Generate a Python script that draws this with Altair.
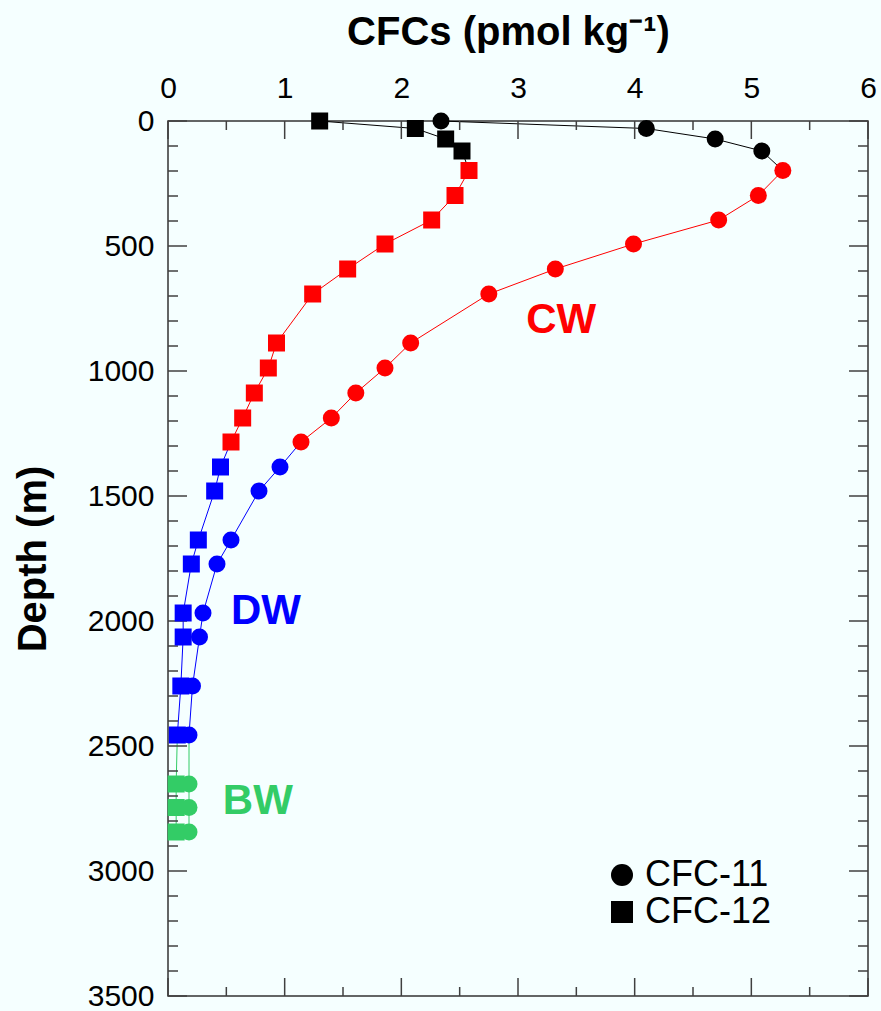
import altair as alt
import pandas as pd

# ---- data ----
depth = [0, 30, 72, 120, 198, 298, 396, 492, 592, 692, 888, 988, 1088, 1188, 1284,
         1384, 1480, 1676, 1772, 1968, 2064, 2260, 2456, 2652, 2746, 2844]
cfc11 = [2.34, 4.10, 4.69, 5.09, 5.27, 5.06, 4.72, 3.99, 3.32, 2.75, 2.08, 1.86, 1.61, 1.40, 1.14,
         0.96, 0.78, 0.54, 0.42, 0.30, 0.27, 0.21, 0.18, 0.18, 0.18, 0.18]
cfc12 = [1.30, 2.12, 2.38, 2.52, 2.58, 2.46, 2.26, 1.86, 1.54, 1.24, 0.93, 0.86, 0.74, 0.64, 0.54,
         0.45, 0.40, 0.26, 0.20, 0.13, 0.13, 0.11, 0.08, 0.07, 0.07, 0.07]
water = ["SW"] * 4 + ["CW"] * 11 + ["DW"] * 8 + ["BW"] * 3

groups = ["SW", "CW", "DW", "BW"]
colors = ["#000000", "#ff0000", "#0000ff", "#33cc66"]
species = ["CFC-11", "CFC-12"]

label_text = ["CW", "DW", "BW"]
label_x = [3.37, 0.84, 0.77]
label_depth = [796, 1960, 2720]

x_major = [0, 1, 2, 3, 4, 5, 6]
x_minor = [0.5, 1.5, 2.5, 3.5, 4.5, 5.5]
y_major = [0, 500, 1000, 1500, 2000, 2500, 3000, 3500]
y_minor = [d for d in range(0, 3501, 100) if d % 500 != 0]

# ---- tables ----
pts = []
for sp, vals in zip(species, [cfc11, cfc12]):
    for d, v, w in zip(depth, vals, water):
        pts.append({"depth": d, "conc": v, "species": sp, "water": w})
pts = pd.DataFrame(pts)

# line segments: connection between groups takes the colour shown in the figure
lines = []
idx = {g: [i for i, w in enumerate(water) if w == g] for g in groups}
seg_idx = {
    "SW": idx["SW"] + [idx["CW"][0]],
    "CW": idx["CW"],
    "DW": [idx["CW"][-1]] + idx["DW"],
    "BW": [idx["DW"][-1]] + idx["BW"],
}
for sp, vals in zip(species, [cfc11, cfc12]):
    for g in groups:
        for i in seg_idx[g]:
            lines.append({"depth": depth[i], "conc": vals[i], "species": sp, "seg": g, "key": sp + g})
lines = pd.DataFrame(lines)

labels = pd.DataFrame({"text": label_text, "conc": label_x, "depth": label_depth, "water": ["CW", "DW", "BW"]})

W, H = 700, 875
FONT = "Liberation Sans"
TICK = "#404040"

xs = alt.Scale(domain=[0, 6], nice=False)
ys = alt.Scale(domain=[0, 3500], reverse=True, nice=False)
cs = alt.Scale(domain=groups, range=colors)

x_axis = alt.Axis(orient="top", values=x_major, format="d", ticks=False, domain=False, grid=False,
                  labelFlush=False, labelOverlap=False,
                  labelFontSize=30, labelFont=FONT, labelColor="black", labelPadding=18,
                  title="CFCs (pmol kg⁻¹)", titleFontSize=40, titleFont=FONT, titleFontWeight="bold",
                  titleColor="black", titlePadding=21, titleX=340)
y_axis = alt.Axis(orient="left", values=y_major, format="d", ticks=False, domain=False, grid=False,
                  labelFlush=False, labelOverlap=False,
                  labelFontSize=30, labelFont=FONT, labelColor="black", labelPadding=14,
                  title="Depth (m)", titleFontSize=40, titleFont=FONT, titleFontWeight="bold",
                  titleColor="black", titlePadding=34)

line_layer = alt.Chart(lines).mark_line(strokeWidth=1).encode(
    x=alt.X("conc:Q", scale=xs, axis=x_axis),
    y=alt.Y("depth:Q", scale=ys, axis=y_axis),
    color=alt.Color("seg:N", scale=cs, legend=None),
    detail="key:N",
    order="depth:Q",
)

point_layer = alt.Chart(pts).mark_point(filled=True, opacity=1, size=289, strokeWidth=0).encode(
    x=alt.X("conc:Q", scale=xs),
    y=alt.Y("depth:Q", scale=ys),
    color=alt.Color("water:N", scale=cs, legend=None),
    shape=alt.Shape("species:N", scale=alt.Scale(domain=species, range=["circle", "square"]),
                    legend=alt.Legend(title=None, orient="none", legendX=436, legendY=736,
                                      labelFontSize=36, labelFont=FONT, labelColor="black",
                                      symbolSize=484, symbolFillColor="black", symbolStrokeColor="black",
                                      symbolStrokeWidth=0, labelOffset=5, rowPadding=1, padding=0)),
)

text_layer = alt.Chart(labels).mark_text(fontSize=42, fontWeight="bold", font=FONT).encode(
    x=alt.X("conc:Q", scale=xs),
    y=alt.Y("depth:Q", scale=ys),
    text="text:N",
    color=alt.Color("water:N", scale=cs, legend=None),
)

def xticks(vals, y0, y1):
    return alt.Chart(pd.DataFrame({"v": vals})).mark_rule(color=TICK, strokeWidth=1.5).encode(
        x=alt.X("v:Q", scale=xs), y=alt.value(y0), y2=alt.value(y1))

def yticks(vals, x0, x1):
    return alt.Chart(pd.DataFrame({"v": vals})).mark_rule(color=TICK, strokeWidth=1.5).encode(
        y=alt.Y("v:Q", scale=ys), x=alt.value(x0), x2=alt.value(x1))

ticks = [
    xticks(x_major, 0, 18), xticks(x_minor, 0, 9),
    xticks(x_major, H, H - 18), xticks(x_minor, H, H - 9),
    yticks(y_major, 0, 19), yticks(y_minor, 0, 10),
    yticks(y_major, W, W - 19), yticks(y_minor, W, W - 10),
]

chart = alt.layer(line_layer, *ticks, point_layer, text_layer).properties(
    width=W, height=H,
    autosize=alt.AutoSizeParams(type="none"),
    padding={"left": 168, "top": 121, "right": 13, "bottom": 15},
    background="#f5ffff",
).configure_view(stroke="#333333", strokeWidth=1.5, fill="#f5ffff")

chart.save("out.html", embed_options={"renderer": "svg", "actions": False})
